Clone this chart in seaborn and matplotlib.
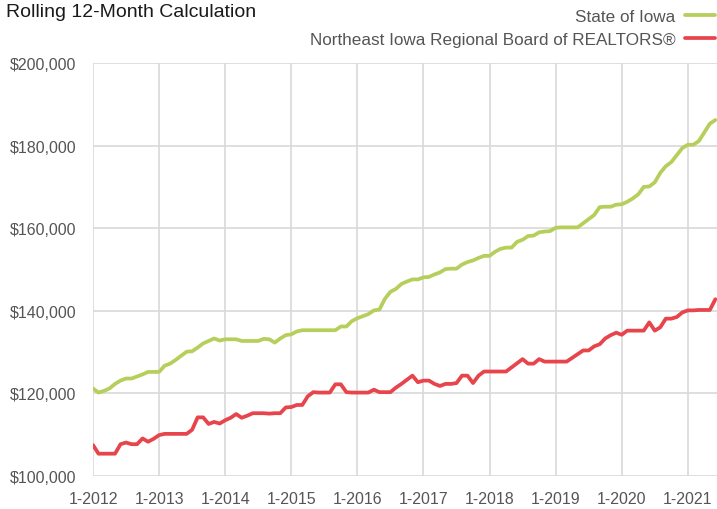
import numpy as np
import pandas as pd
import matplotlib
matplotlib.use("Agg")
import matplotlib.pyplot as plt
import seaborn as sns
from matplotlib import font_manager

years = list(range(2012, 2022))
x_tick_labels = [f"1-{y}" for y in years]
y_ticks = [100000, 120000, 140000, 160000, 180000, 200000]
series_names = ["State of Iowa", "Northeast Iowa Regional Board of REALTORS®"]

state_iowa = [
    121.2, 120.2, 120.6, 121.2, 122.3, 123.1, 123.6, 123.6, 124.1, 124.6, 125.2, 125.2,
    125.2, 126.7, 127.2, 128.1, 129.1, 130.1, 130.2, 131.1, 132.1, 132.7, 133.3, 132.8,
    133.1, 133.1, 133.1, 132.7, 132.7, 132.7, 132.7, 133.2, 133.1, 132.3, 133.3, 134.1,
    134.3, 135.0, 135.3, 135.3, 135.3, 135.3, 135.3, 135.3, 135.3, 136.2, 136.2, 137.5,
    138.2, 138.7, 139.2, 140.1, 140.3, 142.9, 144.6, 145.3, 146.5, 147.1, 147.6, 147.6,
    148.1, 148.2, 148.8, 149.3, 150.1, 150.2, 150.2, 151.2, 151.8, 152.2, 152.8, 153.3,
    153.3, 154.3, 155.0, 155.3, 155.3, 156.7, 157.2, 158.1, 158.2, 159.0, 159.2, 159.3,
    160.1, 160.2, 160.2, 160.2, 160.2, 161.2, 162.2, 163.2, 165.1, 165.2, 165.2, 165.7,
    165.8, 166.4, 167.2, 168.2, 170.0, 170.1, 171.1, 173.4, 175.0, 176.0, 177.7, 179.4,
    180.2, 180.2, 181.1, 183.2, 185.3, 186.2,
]
ne_iowa = [
    107.5, 105.4, 105.4, 105.4, 105.4, 107.7, 108.1, 107.7, 107.7, 109.1, 108.3, 109.0,
    109.9, 110.2, 110.2, 110.2, 110.2, 110.2, 111.2, 114.2, 114.2, 112.6, 113.1, 112.7,
    113.5, 114.1, 115.0, 114.1, 114.6, 115.2, 115.2, 115.2, 115.1, 115.2, 115.2, 116.6,
    116.7, 117.2, 117.2, 119.3, 120.3, 120.2, 120.2, 120.2, 122.2, 122.2, 120.3, 120.2,
    120.2, 120.2, 120.2, 120.9, 120.3, 120.3, 120.3, 121.4, 122.3, 123.3, 124.3, 122.7,
    123.1, 123.1, 122.3, 121.8, 122.3, 122.3, 122.5, 124.3, 124.3, 122.5, 124.3, 125.3,
    125.3, 125.3, 125.3, 125.3, 126.3, 127.3, 128.3, 127.2, 127.2, 128.3, 127.7, 127.7,
    127.7, 127.7, 127.7, 128.6, 129.5, 130.4, 130.4, 131.4, 131.9, 133.3, 134.1, 134.7,
    134.2, 135.2, 135.2, 135.2, 135.2, 137.2, 135.2, 136.0, 138.1, 138.1, 138.5, 139.6,
    140.1, 140.1, 140.2, 140.2, 140.2, 142.8,
]

n = len(state_iowa)
months = np.arange(n)
df = pd.DataFrame({
    "month": np.concatenate([months, months]),
    "value": np.concatenate([np.array(state_iowa), np.array(ne_iowa)]) * 1000,
    "series": [series_names[0]] * n + [series_names[1]] * n,
})

sns.set_theme(style="white")
available = {f.name for f in font_manager.fontManager.ttflist}
fam = [f for f in ["Liberation Sans Narrow", "Liberation Sans", "DejaVu Sans"] if f in available]
plt.rcParams["font.family"] = fam

fig = plt.figure(figsize=(7.17, 5.10), dpi=100)
ax = fig.add_axes([93 / 717, 33 / 510, 1 - 93 / 717, (477 - 64) / 510])

green = "#b6cf5c"
red = "#e8444c"
sns.lineplot(data=df, x="month", y="value", hue="series", palette=[green, red],
             hue_order=series_names, linewidth=2.7, legend=False, ax=ax, zorder=3)

ax.set_xlim(0, 113.3)
ax.set_ylim(100000, 200000)
ax.set_xticks(np.arange(0, n, 12))
ax.set_xticklabels(x_tick_labels)
ax.set_yticks(y_ticks)
ax.set_yticklabels([f"${v:,.0f}" for v in y_ticks])
ax.grid(True, color="#d9d9d9", linewidth=1.2)
ax.tick_params(axis="both", length=5, width=1.2, color="#d9d9d9", labelsize=11.5,
               labelcolor="#555555")
ax.tick_params(axis="x", pad=6)
ax.tick_params(axis="y", pad=7)
for s in ax.spines.values():
    s.set_visible(False)
ax.set_xlabel("")
ax.set_ylabel("")

fig.text(0.008, 1 - 17 / 510, "Rolling 12-Month Calculation", fontsize=14, color="#1a1a1a",
         ha="left", va="baseline")

handles = ax.lines[:2]
leg = fig.legend(handles, series_names, loc="upper right", bbox_to_anchor=(1.012, 1.0),
                 frameon=False, markerfirst=False, fontsize=12.3, labelcolor="#555555",
                 handlelength=1.75, handletextpad=0.6, labelspacing=0.45, borderaxespad=0.2)

fig.savefig("out.png", dpi=100)
